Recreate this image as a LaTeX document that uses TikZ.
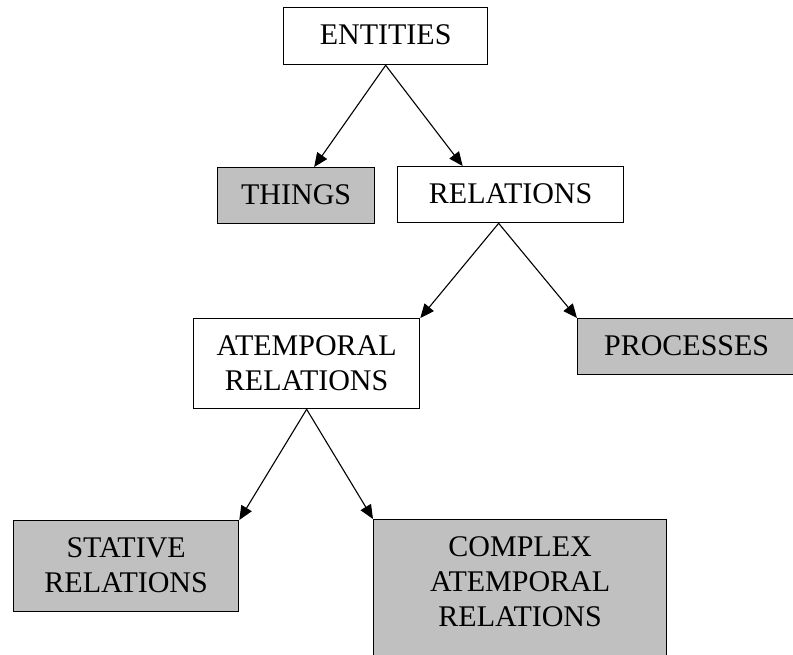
\documentclass[tikz,border=0pt]{standalone}
\usepackage{fontspec}
\setmainfont{Liberation Serif}
\usetikzlibrary{arrows.meta}
\definecolor{boxgray}{RGB}{192,192,192}
\tikzset{
  box/.style={draw, line width=1.3pt, inner sep=0pt, anchor=north west,
    font=\fontsize{30}{35}\selectfont},
  plain/.style={box, fill=white},
  shaded/.style={box, fill=boxgray},
  arr/.style={line width=1.1pt, -{Triangle[length=14pt,width=12pt]}}
}
\begin{document}
\begin{tikzpicture}[x=1pt,y=-1pt]
\newcommand\kbox[7]{
\node[#1] (#2) at (#3,#4) {\parbox[c][#6pt][t]{#5pt}{\centering\vspace*{17pt}#7}};
}
\clip (0,0) rectangle (793,654);

\kbox{plain}{entities}{283}{7}{204}{57}{ENTITIES}
\kbox{shaded}{things}{217}{167}{157}{56}{THINGS}
\kbox{plain}{relations}{397}{166}{226}{56}{RELATIONS}
\kbox{plain}{atemporal}{193}{318}{226}{90}{ATEMPORAL\\RELATIONS}
\kbox{shaded}{processes}{577}{318}{218}{56}{PROCESSES}
\kbox{shaded}{stative}{13}{520}{225}{91}{STATIVE\\RELATIONS}
\kbox{shaded}{complex}{373}{519}{293}{150}{COMPLEX\\ATEMPORAL\\RELATIONS}

\draw[arr] (entities.south) -- ([xshift=18pt]things.north);
\draw[arr] (entities.south) -- ([xshift=-48pt]relations.north);
\draw[arr] ([xshift=-12pt]relations.south) -- (atemporal.north east);
\draw[arr] ([xshift=-12pt]relations.south) -- (processes.north west);
\draw[arr] (atemporal.south) -- (stative.north east);
\draw[arr] (atemporal.south) -- (complex.north west);
\end{tikzpicture}
\end{document}
